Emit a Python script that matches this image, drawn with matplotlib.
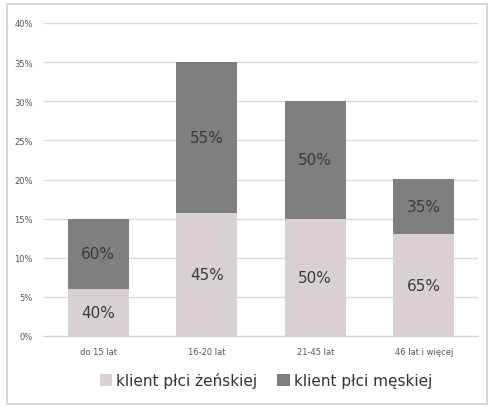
import matplotlib
matplotlib.use("Agg")
import matplotlib.pyplot as plt
from matplotlib.patches import Rectangle
import numpy as np

categories = ["do 15 lat", "16-20 lat", "21-45 lat", "46 lat i więcej"]
totals = [15, 35, 30, 20]          # % of all clients
female_share = [40, 45, 50, 65]    # % share within group
male_share = [60, 55, 50, 35]
series_names = ["klient płci żeńskiej", "klient płci męskiej"]
y_ticks = [0, 5, 10, 15, 20, 25, 30, 35, 40]

female_h = np.array(totals) * np.array(female_share) / 100.0
male_h = np.array(totals) * np.array(male_share) / 100.0

fig = plt.figure(figsize=(4.93, 4.14), dpi=100)
fig.patch.set_facecolor("white")
fig.add_artist(Rectangle((7/493, 1-405/414), 480/493, 400/414, transform=fig.transFigure,
                         fill=False, edgecolor="#d0d0d0", linewidth=1.2))

ax = fig.add_axes([44/493, 1-337/414, 434/493, 313/414])
x = np.arange(len(categories))
w = 0.56
c_f = "#d9d1d1"
c_m = "#7f7f7f"
ax.bar(x, female_h, w, color=c_f, zorder=3, label=series_names[0])
ax.bar(x, male_h, w, bottom=female_h, color=c_m, zorder=3, label=series_names[1])

for i in range(len(categories)):
    ax.text(x[i], female_h[i]/2, f"{female_share[i]}%", ha="center", va="center",
            fontsize=11, color="#3a3a3a", zorder=4)
    ax.text(x[i], female_h[i] + male_h[i]/2, f"{male_share[i]}%", ha="center", va="center",
            fontsize=11, color="#3a3a3a", zorder=4)

ax.set_xlim(-0.5, len(categories) - 0.5)
ax.set_ylim(0, 40)
ax.set_yticks(y_ticks)
ax.set_yticklabels([f"{t}%" for t in y_ticks], fontsize=6, color="#555555")
ax.set_xticks(x)
ax.set_xticklabels(categories, fontsize=6, color="#555555")
ax.tick_params(axis="both", length=0, pad=8)
ax.grid(axis="y", color="#d9d9d9", linewidth=1, zorder=0)
for s in ["top", "right", "left"]:
    ax.spines[s].set_visible(False)
ax.spines["bottom"].set_color("#d0d0d0")

ax.legend(loc="center", bbox_to_anchor=(266/493, 1-381/414), bbox_transform=fig.transFigure,
          ncol=2, frameon=False, fontsize=11, handlelength=0.8, handleheight=0.8,
          handletextpad=0.3, columnspacing=1.3, labelcolor="#333333")

fig.savefig("out.png", dpi=100)
